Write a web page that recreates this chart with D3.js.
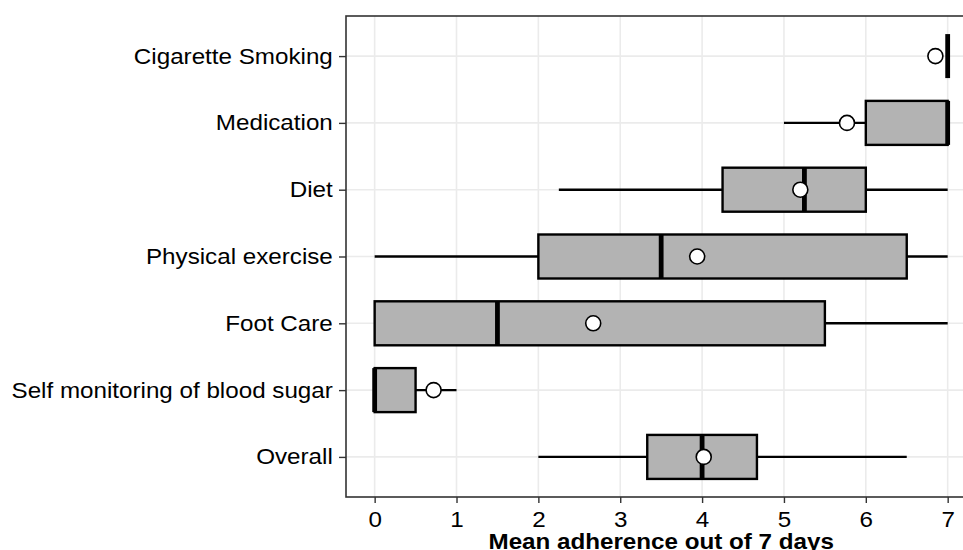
<!DOCTYPE html>
<html>
<head>
<meta charset="utf-8">
<script src="https://cdn.jsdelivr.net/npm/d3@7"></script>
<style>
  html, body { margin: 0; padding: 0; background: #fff; }
  svg { display: block; font-family: "Liberation Sans", Arial, sans-serif; }
</style>
</head>
<body>
<div id="chart"></div>
<script>
// adherence per category
const categories = ["Cigarette Smoking", "Medication", "Diet", "Physical exercise",
                    "Foot Care", "Self monitoring of blood sugar", "Overall"];
const whiskerLo = [7,    5,    2.25, 0,    0,    0,    2];
const q1        = [7,    6,    4.25, 2,    0,    0,    3.33];
const median    = [7,    7,    5.25, 3.5,  1.5,  0,    4];
const q3        = [7,    7,    6,    6.5,  5.5,  0.5,  4.67];
const whiskerHi = [7,    7,    7,    7,    7,    1,    6.5];
const means     = [6.85, 5.77, 5.2,  3.94, 2.67, 0.72, 4.02];
const xTicks    = [0, 1, 2, 3, 4, 5, 6, 7];

const data = categories.map((c, i) => ({
  cat: c, lo: whiskerLo[i], q1: q1[i], med: median[i], q3: q3[i], hi: whiskerHi[i], mean: means[i]
}));

const W = 963, H = 550;
const panel = { left: 346, top: 16, bottom: 497 };
const FS = 22, STRETCH = 1.1;   // text in the source is a bit wide

// ggplot-like expansion: 5% on continuous, 0.6 on discrete
const x = d3.scaleLinear().domain([-0.35, 7.35]).range([panel.left, panel.left + 7.7 * 81.86]);
const yStep = (panel.bottom - panel.top) / 7.2;
const y = d3.scalePoint().domain(categories)
  .range([panel.top + 0.6 * yStep, panel.bottom - 0.6 * yStep]);
const boxH = 44;

const svg = d3.select("#chart").append("svg").attr("width", W).attr("height", H);

const panelRight = x(7.35);

// gridlines
const grid = svg.append("g").attr("stroke", "#ebebeb").attr("stroke-width", 1.6);
grid.selectAll("line.v").data(xTicks).join("line")
  .attr("x1", d => x(d)).attr("x2", d => x(d))
  .attr("y1", panel.top).attr("y2", panel.bottom);
grid.selectAll("line.h").data(categories).join("line")
  .attr("x1", panel.left).attr("x2", panelRight)
  .attr("y1", d => y(d)).attr("y2", d => y(d));

// whiskers
svg.append("g").selectAll("line").data(data).join("line")
  .attr("x1", d => x(d.lo)).attr("x2", d => x(d.hi))
  .attr("y1", d => y(d.cat)).attr("y2", d => y(d.cat))
  .attr("stroke", "#000").attr("stroke-width", 2.4);

// boxes
svg.append("g").selectAll("rect").data(data).join("rect")
  .attr("x", d => x(d.q1)).attr("y", d => y(d.cat) - boxH / 2)
  .attr("width", d => x(d.q3) - x(d.q1)).attr("height", boxH)
  .attr("fill", "#b3b3b3").attr("stroke", "#000").attr("stroke-width", 2.4);

// medians
svg.append("g").selectAll("line").data(data).join("line")
  .attr("x1", d => x(d.med)).attr("x2", d => x(d.med))
  .attr("y1", d => y(d.cat) - boxH / 2).attr("y2", d => y(d.cat) + boxH / 2)
  .attr("stroke", "#000").attr("stroke-width", 4.8);

// means
svg.append("g").selectAll("circle").data(data).join("circle")
  .attr("cx", d => x(d.mean)).attr("cy", d => y(d.cat)).attr("r", 7.5)
  .attr("fill", "#fff").attr("stroke", "#000").attr("stroke-width", 1.6);

// panel border
svg.append("rect")
  .attr("x", panel.left).attr("y", panel.top)
  .attr("width", panelRight - panel.left).attr("height", panel.bottom - panel.top)
  .attr("fill", "none").attr("stroke", "#333").attr("stroke-width", 1.6);

// y axis
const yAxis = svg.append("g").attr("transform", `translate(${panel.left},0)`)
  .call(d3.axisLeft(y).tickSize(7).tickPadding(5));
yAxis.select(".domain").remove();
yAxis.selectAll(".tick line").attr("stroke", "#333").attr("stroke-width", 1.4);
yAxis.selectAll(".tick text").attr("fill", "#000").attr("font-size", FS)
  .attr("font-family", "Liberation Sans, Arial, sans-serif")
  .attr("transform", `scale(${STRETCH},1)`);

// x axis
const xAxis = svg.append("g").attr("transform", `translate(0,${panel.bottom})`)
  .call(d3.axisBottom(x).tickValues(xTicks).tickFormat(d3.format("d")).tickSize(6).tickPadding(8));
xAxis.select(".domain").remove();
xAxis.selectAll(".tick line").attr("stroke", "#333").attr("stroke-width", 1.4);
xAxis.selectAll(".tick text").attr("fill", "#000").attr("font-size", FS)
  .attr("font-family", "Liberation Sans, Arial, sans-serif")
  .attr("transform", `scale(${STRETCH},1)`);

svg.append("text")
  .attr("transform", `translate(${(panel.left + panelRight) / 2},549) scale(${STRETCH},1)`)
  .attr("text-anchor", "middle").attr("font-size", FS).attr("font-weight", "bold")
  .text("Mean adherence out of 7 days");
</script>
</body>
</html>
